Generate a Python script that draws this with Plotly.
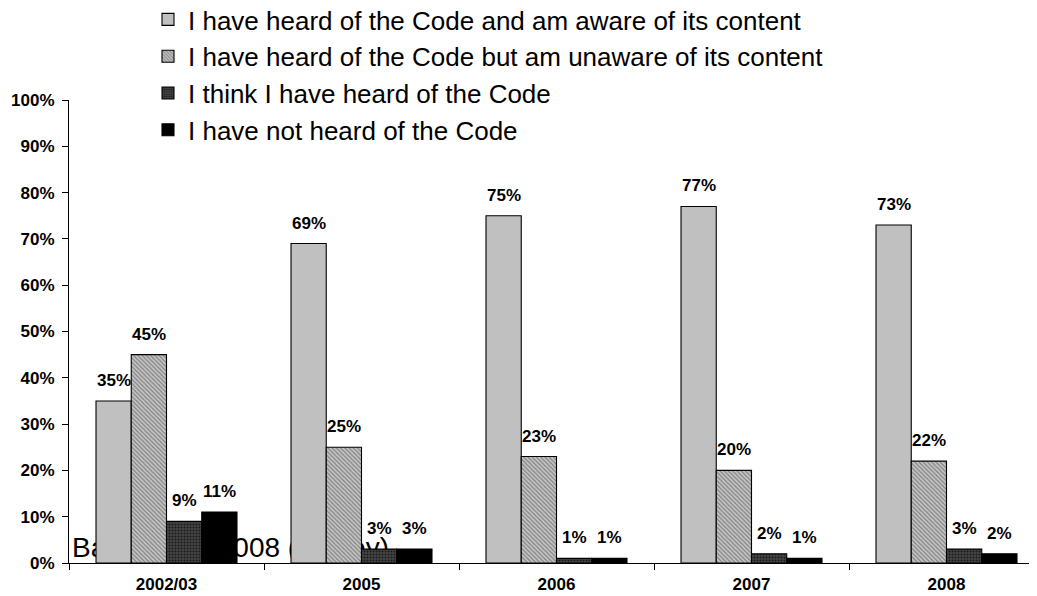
import plotly.graph_objects as go

years = ["2002/03", "2005", "2006", "2007", "2008"]
series_names = [
    "I have heard of the Code and am aware of its content",
    "I have heard of the Code but am unaware of its content",
    "I think I have heard of the Code",
    "I have not heard of the Code",
]
aware = [35, 69, 75, 77, 73]
unaware = [45, 25, 23, 20, 22]
think = [9, 3, 1, 2, 3]
not_heard = [11, 3, 1, 1, 2]
series_values = [aware, unaware, think, not_heard]
base_note = "Base: Total 2008 (survey)"

FONT = "Liberation Sans, Arial, sans-serif"
styles = [
    dict(color="#C0C0C0"),
    dict(color="#B0B0B0", pattern=dict(shape="\\", fgcolor="#808080", bgcolor="#C6C6C6", size=3, solidity=0.4, fillmode="replace")),
    dict(color="#383838", pattern=dict(shape=".", fgcolor="#1A1A1A", bgcolor="#464646", size=3, solidity=0.4, fillmode="replace")),
    dict(color="#000000"),
]

# the page body has an 8px offset; the figure is sized to fit the window
W, H = 1029, 588
ML, MR, MT, MB = 61, 0, 92, 33
PW, PH = W - ML - MR, H - MT - MB

BARGAP = 0.277
fig = go.Figure()
for k, (name, vals) in enumerate(zip(series_names, series_values)):
    m = dict(styles[k])
    m["line"] = dict(color="#000000", width=1.1)
    fig.add_trace(go.Bar(x=years, y=vals, name=name, marker=m,
                         legendgroup=f"g{k}", hoverinfo="skip"))

# data labels above bars
n = len(series_values)
w = (1 - BARGAP) / n
annotations = []
for k, vals in enumerate(series_values):
    for i, v in enumerate(vals):
        xc = i - (1 - BARGAP) / 2 + (k + 0.5) * w
        annotations.append(dict(x=xc, y=v, xref="x", yref="y", text=f"{v}%",
                                showarrow=False, yanchor="bottom", yshift=9,
                                font=dict(family=FONT, size=17, color="#000000", weight="bold")))

cat_px = 195
span = PW / cat_px

fig.update_layout(
    width=W, height=H,
    margin=dict(l=ML, r=MR, t=MT, b=MB, autoexpand=False),
    paper_bgcolor="white", plot_bgcolor="white",
    barmode="group", bargap=BARGAP, bargroupgap=0,
    font=dict(family=FONT, color="#000000"),
    showlegend=True,
    legend=dict(x=(140 - ML) / PW, y=1 + (MT + 12) / PH,
                xanchor="left", yanchor="top", bgcolor="rgba(0,0,0,0)",
                font=dict(family=FONT, size=26, color="#000000"),
                traceorder="grouped", tracegroupgap=0, itemclick=False),
    xaxis=dict(type="category", range=[-0.5, -0.5 + span], showline=True,
               linecolor="#000000", linewidth=1.2, ticks="outside", ticklen=6,
               tickcolor="#000000", tickson="boundaries", showgrid=False,
               zeroline=False, tickangle=0, ticklabelstandoff=5,
               tickfont=dict(family=FONT, size=17, color="#000000", weight="bold")),
    yaxis=dict(range=[0, 100], dtick=10, ticksuffix="%", showline=True,
               linecolor="#000000", linewidth=1.2, ticks="outside", ticklen=6,
               tickcolor="#000000", showgrid=False, zeroline=False,
               ticklabelstandoff=4,
               tickfont=dict(family=FONT, size=17, color="#000000", weight="bold")),
    annotations=annotations,
    shapes=[dict(type="rect", xref="paper", yref="paper", x0=-3 / PW, x1=0.6, y0=0, y1=0.1,
                 layer="below", line=dict(width=0), fillcolor="rgba(0,0,0,0)",
                 label=dict(text=base_note, textposition="bottom left", padding=3,
                            font=dict(family=FONT, size=28, color="#000000")))],
)

fig.write_html("out.html")
